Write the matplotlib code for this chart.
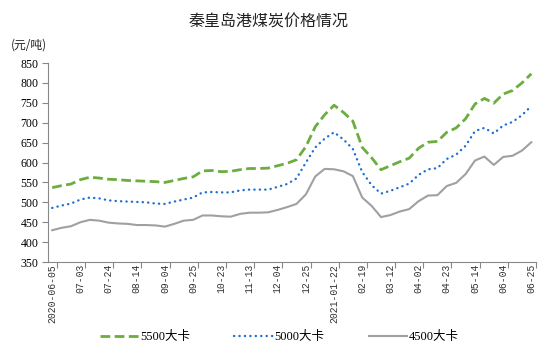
import numpy as np
import matplotlib
matplotlib.use("Agg")
import matplotlib.pyplot as plt

plt.rcParams['font.family'] = ['Noto Sans CJK SC', 'DejaVu Sans']

# tick labels, one every third week
tick_labels = ['2020-06-05', '07-03', '07-24', '08-14', '09-04', '09-25',
               '10-23', '11-13', '12-04', '12-25', '2021-01-22', '02-19',
               '03-12', '04-02', '04-23', '05-14', '06-04', '06-25']

# weekly prices (yuan/ton)
price_5500 = [537, 542, 546, 557, 563, 561, 558, 557, 555, 554, 553, 552, 550,
              555, 560, 564, 579, 580, 577, 578, 582, 585, 585, 586, 592, 598,
              607, 640, 690, 720, 744, 726, 704, 638, 612, 582, 592, 602, 611,
              636, 651, 653, 676, 687, 710, 747, 761, 749, 772, 781, 800, 823]
price_5000 = [486, 492, 497, 507, 512, 510, 505, 503, 502, 501, 500, 497, 496,
              502, 507, 512, 525, 526, 525, 525, 530, 532, 532, 532, 539, 546,
              560, 600, 638, 660, 676, 658, 634, 576, 543, 522, 529, 538, 547,
              569, 583, 586, 609, 620, 642, 679, 687, 673, 693, 702, 719, 742]
price_4500 = [430, 436, 440, 450, 456, 454, 449, 447, 446, 443, 443, 442, 439,
              446, 454, 456, 467, 467, 465, 464, 471, 474, 474, 475, 481, 488,
              496, 520, 565, 584, 583, 578, 566, 512, 491, 463, 468, 477, 483,
              503, 517, 518, 541, 549, 571, 605, 615, 594, 614, 617, 630, 651]

x = np.arange(len(price_5500))

fig = plt.figure(figsize=(5.54, 3.58), dpi=100)
ax = fig.add_axes([0.0866, 0.268, 0.881, 0.556])

ax.plot(x, price_5500, color='#6BAD3E', lw=2.0, linestyle=(0, (3.5, 1.6)),
        label='5500大卡')
ax.plot(x, price_5000, color='#1F6FD1', lw=1.7, linestyle=(0, (0.1, 2.2)),
        dash_capstyle='round', label='5000大卡')
ax.plot(x, price_4500, color='#A0A0A0', lw=1.5, label='4500大卡')

ax.set_xlim(-0.45, 51.5)
ax.set_ylim(350, 850)
ax.set_yticks(np.arange(350, 851, 50))
ax.tick_params(axis='y', labelsize=8.5, length=4, color='#888888', pad=3)
for t in ax.get_yticklabels():
    t.set_family(['Liberation Serif'])

# category ticks sit between weeks, labels under every third week
ax.set_xticks(np.arange(0.5, 52, 3))
ax.set_xticklabels([])
ax.tick_params(axis='x', length=4, color='#888888')
for i, lab in enumerate(tick_labels):
    ax.text(i * 3, 345, lab, rotation=90, ha='center', va='top',
            fontsize=7, family=['Liberation Mono'], color='#333333')

for s in ['top', 'right']:
    ax.spines[s].set_visible(False)
for s in ['left', 'bottom']:
    ax.spines[s].set_color('#888888')

fig.text(0.484, 0.938, '秦皇岛港煤炭价格情况', ha='center', va='center',
         fontsize=11.5, color='#222222')
fig.text(0.052, 0.875, '(元/吨)', ha='center', va='center', fontsize=8.5,
         color='#222222')

fig.legend(loc='center', bbox_to_anchor=(0.504, 0.058), ncol=3, frameon=False,
           handlelength=3.1, handletextpad=0.1, columnspacing=3.55,
           prop={'family': ['Liberation Serif', 'Noto Sans CJK SC'], 'size': 9})

fig.savefig('out.png', dpi=100)
